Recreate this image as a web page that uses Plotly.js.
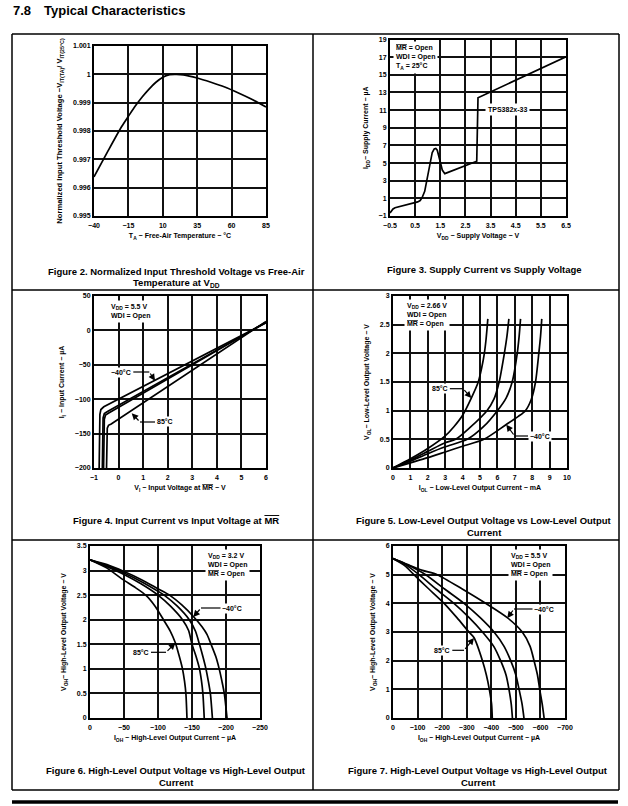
<!DOCTYPE html>
<html><head><meta charset="utf-8">
<script src="https://cdn.plot.ly/plotly-3.0.1.min.js"></script>
<style>html,body{margin:0;padding:0;background:#fff;} #chart{width:628px;height:806px;}</style>
</head><body><div id="chart"></div>
<script>
// ---------- Figure 2: normalized threshold vs temperature ----------
const fig2Temp  = [-40,-30,-20,-15,-10,-5,0,5,10,15,20,25,35,45,55,65,75,85];
const fig2Vnorm = [0.99638,0.99728,0.99815,0.99852,0.99888,0.99920,0.99948,0.99972,0.99990,0.99999,1.00000,0.99998,0.99987,0.99972,0.99955,0.99934,0.99911,0.99885];
const fig2XTicks = [-40,-15,10,35,60,85];
const fig2XText  = ['−40','−15','10','35','60','85'];
const fig2YTicks = [0.995,0.996,0.997,0.998,0.999,1,1.001];
const fig2YText  = ['0.995','0.996','0.997','0.998','0.999','1','1.001'];

// ---------- Figure 3: supply current vs supply voltage ----------
const fig3Vdd = [-0.5,-0.45,-0.38,-0.3,0,0.3,0.6,0.7,0.78,0.88,0.98,1.08,1.18,1.26,1.32,1.38,1.45,1.52,1.58,1.64,1.68,2.95,2.97,3.0,6.5];
const fig3Idd = [-0.65,-0.4,-0.2,-0.07,0.15,0.35,0.6,0.75,1.1,1.8,3.3,5.0,6.2,6.6,6.65,6.45,5.8,4.9,4.2,3.9,3.8,5.2,8.5,12.4,17.05];
const fig3XTicks = [-0.5,0.5,1.5,2.5,3.5,4.5,5.5,6.5];
const fig3XText  = ['−0.5','0.5','1.5','2.5','3.5','4.5','5.5','6.5'];
const fig3YTicks = [-1,1,3,5,7,9,11,13,15,17,19];
const fig3YText  = ['−1','1','3','5','7','9','11','13','15','17','19'];

// ---------- Figure 4: input current vs input voltage at MR ----------
const fig4V_m40 = [-0.79,-0.78,-0.76,-0.72,-0.6,6.0];
const fig4I_m40 = [-200,-150,-122,-115,-111,11];
const fig4V_2   = [-0.66,-0.65,-0.63,-0.58,-0.45,6.0];
const fig4I_2   = [-200,-150,-127,-121,-118,11.5];
const fig4V_3   = [-0.61,-0.60,-0.58,-0.53,-0.40,6.0];
const fig4I_3   = [-200,-150,-129,-123,-120,12];
const fig4V_85  = [-0.49,-0.48,-0.46,-0.41,-0.30,6.0];
const fig4I_85  = [-200,-160,-142,-138,-136,13];
const fig4XTicks = [-1,0,1,2,3,4,5,6];
const fig4XText  = ['−1','0','1','2','3','4','5','6'];
const fig4YTicks = [-200,-150,-100,-50,0,50];
const fig4YText  = ['−200','−150','−100','−50','0','50'];

// ---------- Figure 5: VOL vs IOL ----------
const fig5I_85  = [0,1,2,3,3.5,4,4.5,4.9,5.1,5.25,5.35,5.45];
const fig5V_85  = [0,0.16,0.34,0.56,0.72,0.92,1.22,1.5,1.75,2.0,2.25,2.6];
const fig5I_2   = [0,1,2,3,3.6,4.4,5.4,5.8,6.1,6.4,6.55,6.66];
const fig5V_2   = [0,0.14,0.29,0.44,0.5,0.7,1.0,1.2,1.5,2.0,2.3,2.6];
const fig5I_3   = [0,1,2,3,4.27,5.2,6.0,6.5,6.85,7.14,7.25,7.33];
const fig5V_3   = [0,0.12,0.25,0.37,0.5,0.72,1.0,1.22,1.5,2.0,2.3,2.6];
const fig5I_m40 = [0,1,2,3,4,5.23,6.47,7.2,7.61,7.95,8.19,8.38,8.48,8.55];
const fig5V_m40 = [0,0.09,0.18,0.28,0.38,0.5,0.75,0.9,1.0,1.2,1.5,2.0,2.3,2.6];
const fig5XTicks = [0,1,2,3,4,5,6,7,8,9,10];
const fig5XText  = ['0','1','2','3','4','5','6','7','8','9','10'];
const fig5YTicks = [0,0.5,1,1.5,2,2.5,3];
const fig5YText  = ['0','0.5','1','1.5','2','2.5','3'];

// ---------- Figure 6: VOH vs IOH (VDD = 3.2 V) ----------
const fig6I_85  = [0,-25,-48,-65,-82,-96,-108,-118,-125.5,-131,-136,-139,-141,-142.6];
const fig6V_85  = [3.22,3.05,2.82,2.67,2.5,2.27,2.0,1.77,1.53,1.27,1.0,0.75,0.5,0];
const fig6I_2   = [0,-25,-50,-75,-100,-118,-136,-145,-150,-156,-161,-164,-166,-168];
const fig6V_2   = [3.22,3.08,2.92,2.73,2.5,2.28,2.0,1.78,1.5,1.25,1.0,0.75,0.5,0];
const fig6I_3   = [0,-25,-50,-75,-100,-109,-128,-146,-155,-161,-166,-170.5,-174,-177,-180];
const fig6V_3   = [3.22,3.1,2.95,2.78,2.58,2.5,2.28,2.0,1.77,1.5,1.25,1.0,0.75,0.5,0];
const fig6I_m40 = [0,-25,-50,-75,-100,-117,-135,-153,-165,-172,-178,-185,-190,-194,-197.5,-201.5];
const fig6V_m40 = [3.22,3.12,2.98,2.82,2.63,2.5,2.3,2.05,1.85,1.7,1.5,1.25,1.0,0.75,0.5,0];
const fig6XTicks = [0,-50,-100,-150,-200,-250];
const fig6XText  = ['0','−50','−100','−150','−200','−250'];
const fig6YTicks = [0,0.5,1,1.5,2,2.5,3,3.5];
const fig6YText  = ['0','0.5','1','1.5','2','2.5','3','3.5'];

// ---------- Figure 7: VOH vs IOH (VDD = 5.5 V) ----------
const fig7I_85  = [0,-50,-85,-146,-208,-260,-309,-330,-364,-380,-392,-401,-404];
const fig7V_85  = [5.56,5.3,5.0,4.5,4.0,3.5,3.0,2.8,2.0,1.5,1.0,0.5,0];
const fig7I_2   = [0,-50,-106,-175,-248,-310,-364,-410,-438,-460,-472,-481,-486];
const fig7V_2   = [5.56,5.35,5.0,4.5,4.0,3.5,3.0,2.5,2.0,1.5,1.0,0.5,0];
const fig7I_3   = [0,-50,-133,-210,-289,-355,-411,-452,-479,-500,-513,-525,-533];
const fig7V_3   = [5.56,5.38,5.0,4.5,4.0,3.5,3.0,2.5,2.0,1.5,1.0,0.5,0];
const fig7I_m40 = [0,-60,-120,-180,-282,-377,-465,-526,-558,-574,-588,-597,-607,-615];
const fig7V_m40 = [5.56,5.35,5.15,5.0,4.5,4.0,3.5,3.0,2.5,2.0,1.5,1.0,0.5,0];
const fig7XTicks = [0,-100,-200,-300,-400,-500,-600,-700];
const fig7XText  = ['0','−100','−200','−300','−400','−500','−600','−700'];
const fig7YTicks = [0,1,2,3,4,5,6];
const fig7YText  = ['0','1','2','3','4','5','6'];

// ---------------------------------------------------------------
const W = 628, H = 806;
const F = 'Liberation Sans, Arial, Helvetica, sans-serif';
const px = x => x / W;
const py = y => 1 - y / H;
const OL = s => '<span style="text-decoration:overline">' + s + '</span>';

function line(x, y, xa, ya, name, shape) {
  return {x: x, y: y, xaxis: xa, yaxis: ya, name: name, type: 'scatter', mode: 'lines',
          line: {color: '#000', width: 1.7, shape: shape || 'linear', smoothing: 0.7},
          hoverinfo: 'skip', showlegend: false};
}

const traces = [
  line(fig2Temp, fig2Vnorm, 'x', 'y', 'Normalized VIT', 'spline'),
  line(fig3Vdd, fig3Idd, 'x2', 'y2', 'TPS382x-33', 'linear'),
  line(fig4V_m40, fig4I_m40, 'x3', 'y3', '−40°C'),
  line(fig4V_2, fig4I_2, 'x3', 'y3', 'curve 2'),
  line(fig4V_3, fig4I_3, 'x3', 'y3', 'curve 3'),
  line(fig4V_85, fig4I_85, 'x3', 'y3', '85°C'),
  line(fig5I_85, fig5V_85, 'x4', 'y4', '85°C', 'spline'),
  line(fig5I_2, fig5V_2, 'x4', 'y4', 'curve 2', 'spline'),
  line(fig5I_3, fig5V_3, 'x4', 'y4', 'curve 3', 'spline'),
  line(fig5I_m40, fig5V_m40, 'x4', 'y4', '−40°C', 'spline'),
  line(fig6I_85, fig6V_85, 'x5', 'y5', '85°C', 'spline'),
  line(fig6I_2, fig6V_2, 'x5', 'y5', 'curve 2', 'spline'),
  line(fig6I_3, fig6V_3, 'x5', 'y5', 'curve 3', 'spline'),
  line(fig6I_m40, fig6V_m40, 'x5', 'y5', '−40°C', 'spline'),
  line(fig7I_85, fig7V_85, 'x6', 'y6', '85°C', 'spline'),
  line(fig7I_2, fig7V_2, 'x6', 'y6', 'curve 2', 'spline'),
  line(fig7I_3, fig7V_3, 'x6', 'y6', 'curve 3', 'spline'),
  line(fig7I_m40, fig7V_m40, 'x6', 'y6', '−40°C', 'spline')
];

const tickFont  = {family: F, size: 7, color: '#000', weight: 'bold'};
const titleFont = {family: F, size: 7, color: '#000', weight: 'bold'};

function axis(isX, a, b, range, vals, text, title, anchor, standoff, tsize) {
  return {
    domain: isX ? [px(a), px(b)] : [py(b), py(a)],
    range: range, autorange: false, anchor: anchor,
    showline: true, mirror: true, linecolor: '#000', linewidth: 2,
    showgrid: true, gridcolor: '#111', gridwidth: 2, zeroline: false,
    ticks: '', tickmode: 'array', tickvals: vals, ticktext: text,
    ticklabelstandoff: isX ? 2 : 0,
    tickfont: tickFont, fixedrange: true, automargin: false,
    title: {text: title, font: Object.assign({}, titleFont, tsize ? {size: tsize} : {}), standoff: standoff}
  };
}

const layout = {
  width: W, height: H, margin: {l: 0, r: 0, t: 0, b: 0},
  paper_bgcolor: '#fff', plot_bgcolor: '#fff', showlegend: false,
  font: {family: F, color: '#000'},
  xaxis:  axis(true, 94, 266, [-40, 85], fig2XTicks, fig2XText, 'T<sub>A</sub> − Free-Air Temperature − °C', 'y', 5),
  yaxis:  axis(false, 46, 216, [0.995, 1.001], fig2YTicks, fig2YText, 'Normalized Input Threshold Voltage −V<sub>IT(TA)</sub>/ V<sub>IT(25°C)</sub>', 'x', 9, 7.6),
  xaxis2: axis(true, 390, 566, [-0.5, 6.5], fig3XTicks, fig3XText, 'V<sub>DD</sub> − Supply Voltage − V', 'y2', 5),
  yaxis2: axis(false, 39.5, 216, [-1, 19], fig3YTicks, fig3YText, 'I<sub>DD</sub>− Supply Current − µA', 'x2', 9),
  xaxis3: axis(true, 94, 266, [-1, 6], fig4XTicks, fig4XText, 'V<sub>I</sub> − Input Voltage at ' + OL('MR') + ' − V', 'y3', 5),
  yaxis3: axis(false, 296, 468, [-200, 50], fig4YTicks, fig4YText, 'I<sub>I</sub> − Input Current − µA', 'x3', 9),
  xaxis4: axis(true, 393, 567, [0, 10], fig5XTicks, fig5XText, 'I<sub>OL</sub> − Low-Level Output Current − mA', 'y4', 5),
  yaxis4: axis(false, 296, 468, [0, 3], fig5YTicks, fig5YText, 'V<sub>OL</sub>− Low-Level Output Voltage − V', 'x4', 9),
  xaxis5: axis(true, 90, 260, [0, -250], fig6XTicks, fig6XText, 'I<sub>OH</sub> − High-Level Output Current − µA', 'y5', 5),
  yaxis5: axis(false, 546, 718, [0, 3.5], fig6YTicks, fig6YText, 'V<sub>OH</sub>− High-Level Output Voltage − V', 'x5', 9),
  xaxis6: axis(true, 393, 565, [0, -700], fig7XTicks, fig7XText, 'I<sub>OH</sub> − High-Level Output Current − µA', 'y6', 5),
  yaxis6: axis(false, 546, 718, [0, 6], fig7YTicks, fig7YText, 'V<sub>OH</sub>− High-Level Output Voltage − V', 'x6', 9),
  shapes: [],
  annotations: []
};

// page frame lines
function seg(x0, y0, x1, y1, w) {
  layout.shapes.push({type: 'line', xref: 'paper', yref: 'paper', x0: px(x0), y0: py(y0), x1: px(x1), y1: py(y1),
                      line: {color: '#000', width: w || 1.5}, layer: 'above'});
}
seg(12, 34, 619, 34); seg(12, 790, 619, 790); seg(12, 34, 12, 790); seg(619, 34, 619, 790);
seg(313, 34, 313, 790); seg(12, 290, 619, 290); seg(12, 540, 619, 540);
seg(12, 802, 618, 802, 3.5);

// text helpers
function txt(x, y, text, opt) {
  opt = opt || {};
  layout.annotations.push({xref: 'paper', yref: 'paper', x: px(x), y: py(y), text: text, showarrow: false,
    xanchor: opt.xa || 'center', yanchor: 'middle', align: opt.align || 'center',
    font: {family: F, size: opt.size || 7, color: '#000', weight: 'bold'},
    bgcolor: opt.bg ? '#fff' : 'rgba(0,0,0,0)', borderpad: opt.pad === undefined ? 1 : opt.pad});
}
function leader(tx, ty, kx, ky, ex) {
  // horizontal leader from (ex,ky) to (kx,ky), then arrow from kink to tip (tx,ty)
  seg(ex, ky, kx, ky, 1.2);
  layout.annotations.push({xref: 'paper', yref: 'paper', x: px(tx), y: py(ty), text: '',
    showarrow: true, arrowhead: 2, arrowsize: 1.1, arrowwidth: 1.2, arrowcolor: '#000',
    axref: 'pixel', ayref: 'pixel', ax: kx - tx, ay: ky - ty, standoff: 0, startstandoff: 0});
}

// heading
txt(12, 10, '7.8', {xa: 'left', size: 13, pad: 0});
txt(43, 10, 'Typical Characteristics', {xa: 'left', size: 13, pad: 0});

// captions
txt(176, 271, 'Figure 2. Normalized Input Threshold Voltage vs Free-Air', {size: 9.5});
txt(176, 283, 'Temperature at V<sub>DD</sub>', {size: 9.5});
txt(484, 269, 'Figure 3. Supply Current vs Supply Voltage', {size: 9.5});
txt(176, 520, 'Figure 4. Input Current vs Input Voltage at ' + OL('MR'), {size: 9.5});
txt(484, 520, 'Figure 5. Low-Level Output Voltage vs Low-Level Output', {size: 9.5});
txt(484, 532, 'Current', {size: 9.5});
txt(176, 770, 'Figure 6. High-Level Output Voltage vs High-Level Output', {size: 9.5});
txt(176, 782, 'Current', {size: 9.5});
txt(478, 770, 'Figure 7. High-Level Output Voltage vs High-Level Output', {size: 9.5});
txt(478, 782, 'Current', {size: 9.5});

// condition blocks
txt(393, 57.5, OL('MR') + ' = Open<br>WDI = Open<br>T<sub>A</sub> = 25°C', {xa: 'left', align: 'left', bg: true, pad: 2});
txt(507, 109, 'TPS382x-33', {bg: true, pad: 2});
txt(108, 311.5, 'V<sub>DD</sub> = 5.5 V<br>WDI = Open', {xa: 'left', align: 'left', bg: true, pad: 2});
txt(404, 315, 'V<sub>DD</sub> = 2.66 V<br>WDI = Open<br>' + OL('MR') + ' = Open', {xa: 'left', align: 'left', bg: true, pad: 2});
txt(205, 565, 'V<sub>DD</sub> = 3.2 V<br>WDI = Open<br>' + OL('MR') + ' = Open', {xa: 'left', align: 'left', bg: true, pad: 2});
txt(508, 565, 'V<sub>DD</sub> = 5.5 V<br>WDI = Open<br>' + OL('MR') + ' = Open', {xa: 'left', align: 'left', bg: true, pad: 2});

// temperature labels with leaders
leader(155, 380.7, 149.3, 372, 133.3); txt(120.5, 372, '−40°C', {bg: true});
leader(131.7, 413.3, 140, 422, 155);   txt(165, 422, '85°C', {bg: true});
leader(471.3, 398, 463, 388.7, 449.7); txt(439.7, 388.7, '85°C', {bg: true});
leader(506.3, 424.7, 514.7, 436, 528); txt(539.7, 436, '−40°C', {bg: true});
leader(193.3, 617, 201, 608, 221);     txt(231.7, 608, '−40°C', {bg: true});
leader(175.3, 643, 166, 652.3, 151);   txt(141, 652.3, '85°C', {bg: true});
leader(507.3, 618, 514, 609, 534);     txt(544, 609, '−40°C', {bg: true});
leader(474, 638, 464, 650.3, 452.3);   txt(441.5, 650.3, '85°C', {bg: true});

Plotly.newPlot('chart', traces, layout, {displayModeBar: false, responsive: false});
</script></body></html>
